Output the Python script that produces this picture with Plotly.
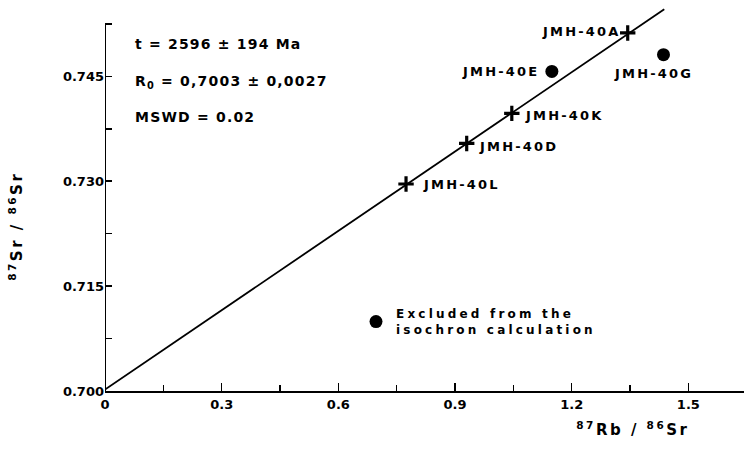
import json
import plotly.graph_objects as go

# Samples used in the isochron (crosses)
iso_samples = ["JMH-40L", "JMH-40D", "JMH-40K", "JMH-40A"]
iso_rb = [0.774, 0.930, 1.046, 1.344]
iso_sr = [0.7296, 0.7354, 0.7397, 0.7512]

# Samples excluded from the isochron (filled circles)
exc_samples = ["JMH-40E", "JMH-40G"]
exc_rb = [1.149, 1.436]
exc_sr = [0.7457, 0.7481]

# Isochron line end points
line_rb = [0.0, 1.438]
line_sr = [0.7002, 0.7546]

x_tickvals = [0, 0.3, 0.6, 0.9, 1.2, 1.5]
x_ticktext = ["0", "0.3", "0.6", "0.9", "1.2", "1.5"]
y_tickvals = [0.700, 0.715, 0.730, 0.745]
y_ticktext = ["0.700", "0.715", "0.730", "0.745"]

stats_lines = ["t = 2596 ± 194 Ma", "R<sub>0</sub> = 0,7003 ± 0,0027", "MSWD = 0.02"]
legend_text = "Excluded from the<br>isochron calculation"

FONT = "DejaVu Sans"
BLACK = "#000000"

W, H = 744, 450
L, R, T, B = 105, 0, 5, 59
pw, ph = W - L - R, H - T - B

fig = go.Figure()

fig.add_trace(go.Scatter(
    x=line_rb, y=line_sr, mode="lines",
    line=dict(color=BLACK, width=1.8),
    showlegend=False, hoverinfo="skip", cliponaxis=False,
))
fig.add_trace(go.Scatter(
    x=iso_rb, y=iso_sr, mode="markers",
    marker=dict(symbol="cross-thin", size=11, line=dict(color=BLACK, width=3.2)),
    showlegend=False, cliponaxis=False,
))
fig.add_trace(go.Scatter(
    x=exc_rb, y=exc_sr, mode="markers",
    marker=dict(symbol="circle", size=13, color=BLACK),
    name=legend_text, showlegend=True, cliponaxis=False,
))

# y-axis spine (ends at the top minor tick)
fig.add_shape(type="line", xref="x", yref="y", x0=0, x1=0, y0=0.700, y1=0.7525,
              line=dict(color=BLACK, width=2))

spacings = []  # letter spacing per annotation (px)

LAB_SP = 2.2
label_font = dict(family=FONT, size=13, color=BLACK, weight="bold")
# label placement: (x offset px, anchor, y offset px)
offsets = {"JMH-40L": (15, "left", 0), "JMH-40D": (10, "left", -3),
           "JMH-40K": (11, "left", -2), "JMH-40A": (-5, "right", 1),
           "JMH-40E": (-10, "right", 0), "JMH-40G": (-10, "center", -19)}


def add_label(name, xv, yv):
    dx, anc, dy = offsets[name]
    grow = len(name) * LAB_SP
    if anc == "right":
        dx -= grow
    elif anc == "center":
        dx -= grow / 2
    fig.add_annotation(x=xv, y=yv, xref="x", yref="y", text=name, showarrow=False,
                       xanchor=anc, yanchor="middle", align="left",
                       xshift=dx, yshift=dy, font=label_font)
    spacings.append(LAB_SP)


for name, xv, yv in zip(iso_samples, iso_rb, iso_sr):
    add_label(name, xv, yv)
for name, xv, yv in zip(exc_samples, exc_rb, exc_sr):
    add_label(name, xv, yv)

stats_font = dict(family=FONT, size=14, color=BLACK, weight="bold")
for txt, yv in zip(stats_lines, [0.7496, 0.7442, 0.7392]):
    fig.add_annotation(x=0.072, y=yv, xref="x", yref="y", text=txt, showarrow=False,
                       xanchor="left", yanchor="middle", align="left", font=stats_font)
    spacings.append(1.2)

title_font = dict(family=FONT, size=15, color=BLACK, weight="bold")
fig.add_annotation(x=(16 - L) / pw, y=(H - B - 226) / ph, xref="paper", yref="paper",
                   xanchor="center", yanchor="middle",
                   text="<sup>87</sup>Sr / <sup>86</sup>Sr",
                   showarrow=False, textangle=-90, font=title_font)
spacings.append(2.5)
fig.add_annotation(x=(633 - L) / pw, y=(H - B - 429) / ph, xref="paper", yref="paper",
                   xanchor="center", yanchor="middle",
                   text="<sup>87</sup>Rb / <sup>86</sup>Sr",
                   showarrow=False, font=title_font)
spacings.append(2.5)

tick_font = dict(family=FONT, size=13, color=BLACK, weight="bold")
fig.update_layout(
    width=W, height=H,
    margin=dict(l=L, r=R, t=T, b=B, pad=0),
    paper_bgcolor="white", plot_bgcolor="white",
    showlegend=True,
    legend=dict(x=(356 - L) / pw, y=(H - B - 322) / ph, xanchor="left", yanchor="middle",
                bgcolor="rgba(0,0,0,0)", font=dict(family=FONT, size=12, color=BLACK, weight="bold"),
                itemsizing="trace", valign="middle", tracegroupgap=0),
    xaxis=dict(range=[0, 1.643], showgrid=False, zeroline=False, showline=True,
               linecolor=BLACK, linewidth=2, ticks="inside", ticklen=8, tickwidth=1.5,
               tickcolor=BLACK, tickvals=x_tickvals, ticktext=x_ticktext, tickfont=tick_font,
               minor=dict(tickvals=[0.15, 0.45, 0.75, 1.05, 1.35], ticks="inside",
                          ticklen=6, tickwidth=1.5, tickcolor=BLACK, showgrid=False),
               fixedrange=True),
    yaxis=dict(range=[0.700, 0.700 + 386 / 6993], showgrid=False, zeroline=False, showline=False,
               ticks="inside", ticklen=7, tickwidth=1.5, tickcolor=BLACK,
               tickvals=y_tickvals, ticktext=y_ticktext, tickfont=tick_font,
               minor=dict(tickvals=[0.7075, 0.7225, 0.7375, 0.7525], ticks="inside",
                          ticklen=7, tickwidth=1.5, tickcolor=BLACK, showgrid=False),
               fixedrange=True),
)

post = """
document.body.style.margin = '0';
document.body.style.overflow = 'hidden';
var gd = document.getElementById('{plot_id}');
var sp = %s;
gd.querySelectorAll('g.annotation').forEach(function (g) {
  var i = +g.getAttribute('data-index');
  var t = g.querySelector('text.annotation-text');
  if (t && sp[i] !== undefined) { t.style.letterSpacing = sp[i] + 'px'; }
});
gd.querySelectorAll('text.legendtext').forEach(function (t) { t.style.letterSpacing = '3.2px'; });
gd.querySelectorAll('.legend .scrollbox, .legend').forEach(function (s) { s.removeAttribute('clip-path'); s.style.clipPath = 'none'; });
""" % json.dumps(spacings)

fig.write_html("out.html", post_script=post, config={"displayModeBar": False, "staticPlot": True})
